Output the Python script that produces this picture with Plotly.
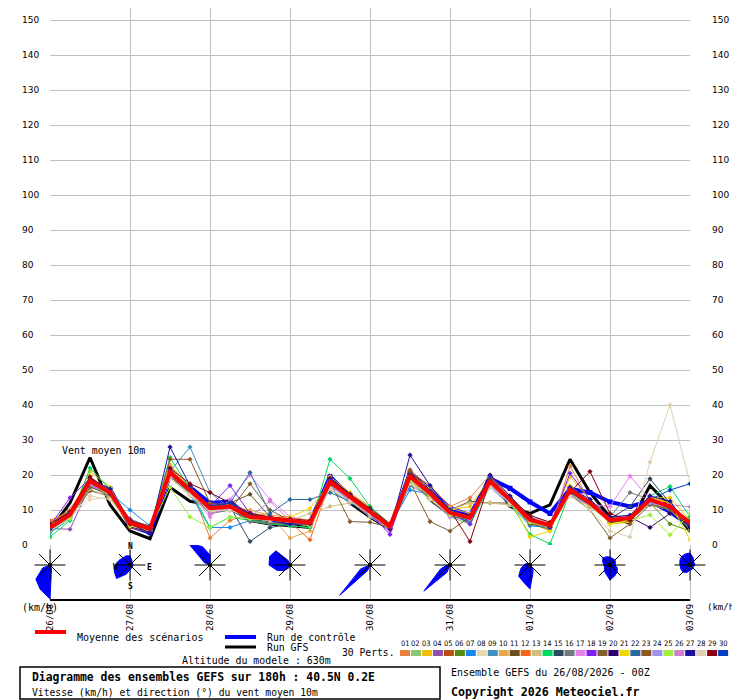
import math
import plotly.graph_objects as go

# page has an 8px body margin, so the figure is drawn 8px in from the window corner
OFF = 8
W, H = 740 - OFF, 700 - OFF
MONO = "DejaVu Sans Mono"

# 6-hourly steps from 26/08 00Z to 03/09 00Z
hours = list(range(0, 193, 6))
days = ["26/08", "27/08", "28/08", "29/08", "30/08", "31/08", "01/09", "02/09", "03/09"]
speed_ticks = list(range(0, 151, 10))

mean_run = [5, 8.6, 18.3, 15, 6.3, 4.7, 20.8, 15.7, 10.5, 11, 8, 7.6, 6.9, 6.3, 18, 13.6,
            9.5, 5.3, 19.6, 14.8, 9.2, 7.8, 18.2, 12.9, 7.2, 5.6, 15.8, 12, 7.1, 7.7, 13, 11, 6.2]
gfs_run = [4.3, 12, 25, 11.5, 4, 1.8, 16.5, 12.5, 11.5, 11, 7, 6, 5.5, 5, 20, 12,
           8, 4.5, 21, 13, 8.6, 7, 20, 11, 9, 11.5, 24.5, 15, 8, 6.2, 17, 11, 4]
ctrl_run = [4.5, 9.5, 17.5, 16, 5.5, 3.5, 20, 16.5, 12, 12.5, 7.5, 7, 6, 6.5, 19.5, 14,
            8.5, 5, 20.5, 16, 10.5, 8.5, 19, 16.2, 12.3, 9, 16, 15, 12.3, 11, 12.5, 9.5, 5.5]

perts = [
    [6.5, 9.5, 19, 16, 7, 5, 22, 17, 2, 7, 9, 8.5, 8, 7, 19, 14.5, 10, 6, 21, 17, 11, 13.5, 20, 14, 6.5, 4, 22.5, 12.5, 6, 8, 14, 12, 5],
    [4, 8, 17, 13.5, 5.5, 4, 20, 14, 9, 10, 7, 6.5, 5.5, 5, 17, 12.5, 8, 4.5, 18, 13, 8, 6, 17, 12, 6, 5, 14, 11, 6.5, 7, 12, 10, 4.5],
    [5.5, 9, 21, 16.5, 6, 4.5, 23, 16.5, 11, 12, 9, 8, 7.5, 7, 19.5, 15, 11, 6, 20, 15.5, 10, 11, 19, 13.5, 8, 6, 19.5, 13, 6, 6.5, 13.5, 13.5, 7],
    [4.7, 4.5, 17, 15, 7.5, 5, 19.5, 15, 11.5, 12, 9.5, 7, 6, 6, 17.5, 13, 9, 5, 19, 14, 9, 7, 17.5, 12, 7, 5, 15, 11.5, 7.5, 8.5, 12.5, 10.5, 5.5],
    [6, 10, 18.5, 14, 5, 3.5, 22, 15.5, 10, 10.5, 8, 8, 7, 6.5, 18.5, 14, 10, 5.5, 21.5, 16, 9, 8, 19, 13, 7.5, 5, 16, 12.5, 7, 7.5, 13, 11.5, 6],
    [5, 8.5, 17.5, 14, 6.5, 5, 21.5, 16, 10, 11.5, 7.5, 6, 6.5, 5.5, 18, 13.5, 9, 5, 18.5, 14, 9.5, 7.5, 18, 12.5, 6, 4.5, 15, 11, 8, 8, 12, 6, 4],
    [3.5, 7.5, 16.5, 15, 10, 5.5, 20, 14.5, 5, 5, 7, 8, 7, 6, 16, 12, 9.5, 5.5, 15.7, 14.5, 8.5, 7, 16.5, 11.5, 5.5, 5, 15.5, 11.5, 7.5, 8, 12.5, 10.5, 5],
    [6, 8, 13, 13.5, 6, 4.5, 19, 14, 9.5, 10, 8.5, 7, 7.5, 7, 17, 13, 8.5, 5, 18, 13.5, 8.5, 8, 17.5, 12, 7, 6, 14, 11, 7, 7, 11.5, 10, 6],
    [5, 9, 18, 14.5, 6, 4, 21, 28, 15, 10.5, 7.5, 7, 6.5, 6, 18, 13.5, 9.5, 5, 19, 14, 9, 7.5, 18.5, 13, 7, 5.5, 16, 12, 7, 7.5, 13, 11, 6],
    [6.5, 10, 19.5, 15.5, 7, 5, 22.5, 16, 11, 11, 10, 8.5, 2, 4, 18.5, 14.5, 11, 5.5, 20, 16.5, 10.5, 9, 18, 13, 8, 6, 16.5, 12.5, 7, 7, 13, 11.5, 6.5],
    [5, 8, 15.5, 14, 7, 5.5, 19.5, 15, 11, 12, 14.5, 8, 7, 6, 17.5, 13, 9, 5, 18.5, 13.5, 10, 12.5, 12, 12, 6.5, 5, 15, 11.5, 6.5, 7, 12, 10, 5.5],
    [7, 9.5, 19, 15, 6, 4, 21.5, 16.5, 11, 11.5, 8.5, 7.5, 6.5, 1.5, 18, 14, 10, 5, 20.5, 15.5, 9.5, 8, 19.5, 13.5, 7.5, 6, 16.5, 12, 7.5, 8, 13.5, 11, 7],
    [5.5, 8, 16, 13.5, 6, 4.5, 20, 15, 10, 10.5, 7.5, 7, 7, 9, 11, 12, 11, 6, 17.5, 14, 10, 12, 12, 11.4, 7, 5, 14.5, 11, 7, 7.5, 12, 10.5, 6],
    [2.3, 7, 22, 16, 7, 5, 25, 16, 5, 8, 7, 6, 5.5, 5, 24.5, 19, 11, 6, 19, 15, 9, 6, 17, 12, 3, 0.3, 15, 12.5, 7, 8, 14, 16.7, 8],
    [4.5, 8.5, 18, 14.5, 6.5, 4.5, 20.5, 15.5, 10.5, 11, 1, 5, 6, 6.5, 18.5, 13.5, 9.5, 5.5, 19.5, 14.5, 9, 7.5, 18, 13, 7, 5.5, 15.5, 12, 7.5, 11, 18.9, 12, 6],
    [5, 9, 17.5, 14, 6, 4.5, 21, 15, 9, 10, 6.7, 6, 6.5, 6, 17.5, 13, 9, 5, 19, 14, 9, 7, 18, 12.5, 6.5, 5, 15, 11.5, 8, 15, 13, 11.5, 6.5],
    [4, 8, 17, 14, 7, 5, 20.5, 15, 8, 13, 20, 13, 8, 6.5, 17, 12.5, 8.5, 4, 18.5, 13.5, 8, 7, 17, 12, 6.5, 5.5, 15.5, 11.5, 11, 19.7, 13, 11, 6.5],
    [5.5, 13.5, 19, 15, 6.5, 4.5, 21.5, 16, 11, 17, 9, 7.5, 6.5, 5.5, 18.5, 14, 9, 3, 20, 15, 9.5, 6, 18.5, 13.5, 7.5, 5.5, 20.5, 13, 7, 7, 13, 11, 5.5],
    [5, 8, 16.5, 14.5, 7, 5, 19.5, 15, 10.5, 10, 17.5, 10, 7, 6, 18, 6.7, 6.5, 5, 18, 6.7, 4, 8, 17.5, 12.5, 6, 5, 14.5, 10, 2, 6, 11.5, 10, 5],
    [5, 9, 18, 15, 7, 5, 21, 16, 11, 11, 8.5, 8, 7, 6.5, 18.5, 14, 10, 5.5, 20.5, 15, 9.5, 8.5, 18.5, 13, 7.5, 5.5, 16, 12, 6.5, 8, 5, 9, 5.5],
    [4.5, 9, 19.5, 15, 5.5, 4, 21, 15, 10, 11.5, 8, 7.5, 8, 10.5, 17.5, 13, 9, 4.5, 19, 14, 9.5, 8, 19, 13, 2.3, 4, 17, 12, 6, 7, 13.5, 12, 1.5],
    [5, 9, 18.5, 14, 6, 4.5, 20.5, 15.5, 10, 12, 20.7, 9, 13, 13, 15, 12.5, 9, 5, 17, 14, 8.5, 7, 18, 12.5, 7, 5.5, 15, 11.5, 7, 7.5, 12.5, 10.5, 6],
    [6, 9.5, 19, 15.5, 6.5, 4, 24.5, 24.5, 12, 11, 9, 7.5, 6.5, 6, 19, 14, 9.5, 5.5, 21, 15.5, 10, 8, 18.5, 13, 7, 6, 16, 12, 7.5, 7.5, 13, 11, 7],
    [4.5, 8, 17.5, 14.5, 6, 4.5, 20, 15, 10.5, 11, 8, 7, 6.5, 6, 17, 13, 9.5, 5.5, 19, 14.5, 9.5, 7.5, 17.5, 12.5, 8, 6.5, 14, 11.5, 7.5, 8.5, 12, 11, 6.5],
    [4, 7.5, 18, 14, 5.5, 4.5, 16.5, 8, 5, 8, 7.5, 7, 6.5, 5.5, 17.5, 13.5, 9, 5, 18.5, 14, 8.5, 7.5, 17.5, 12.5, 6.5, 5, 15.5, 11.5, 7, 7, 8.6, 2.9, 9],
    [5.5, 8.5, 18.5, 15, 6.5, 5, 21, 16, 9, 10.5, 8, 12.5, 7, 6.5, 18, 13.5, 9.5, 5, 19.5, 15, 9, 7.5, 18.5, 13, 7, 5.5, 16, 12, 7.5, 8, 13, 11.5, 10.9],
    [4.5, 9, 19, 16, 6, 3.5, 28, 17, 11, 12, 9, 7, 6, 6, 19, 14.5, 10, 4.5, 25.7, 17, 10, 8, 20, 14, 8, 5, 16.5, 13, 8, 8.5, 14, 12.5, 5],
    [5, 8.5, 14, 13, 6, 5, 19, 14.5, 10, 10, 8, 7, 7, 6.5, 16, 12.5, 9, 5.5, 17.5, 13, 9, 8, 16.5, 12, 7, 5.5, 14, 10, 4, 2.3, 23.7, 40, 17.7],
    [6, 9.5, 19.5, 15, 6, 4.5, 22, 17.5, 15, 12, 9, 8, 7.5, 7, 19, 14.5, 10.5, 6, 20, 15, 10, 1, 18.5, 13.5, 8.5, 6.5, 15, 21, 9, 7, 13, 11, 6.5],
    [5, 9, 18, 14.5, 6.5, 4.5, 21, 16, 11, 12, 8.5, 8, 7, 6.5, 18.5, 14, 10, 5.5, 20, 15.5, 10, 8, 19, 13.5, 7.5, 5.5, 16, 12.5, 7, 8, 13, 15.7, 17.5],
]
pert_colors = [
    "#e8823a", "#88c870", "#f0c000", "#9050b0", "#b85010", "#5a8a10", "#1a88f0", "#e8d8b0",
    "#4090c0", "#e8a850", "#6a5020", "#f06820", "#d0c080", "#00d860", "#2a4a60", "#707880",
    "#e880f0", "#8020f0", "#806030", "#300070", "#f0d800", "#2a68a0", "#905820", "#a090f0",
    "#a0f040", "#d080d0", "#2010a0", "#e0d0b0", "#880010", "#0040c0",
]

# wind direction roses at 00Z each day: spread (px) per 16 directions, N clockwise
roses = [
    [0, 0, 0, 0, 0, 0, 0, 4, 34, 26, 20, 8, 0, 0, 0, 0],
    [9, 5, 3, 3, 3, 3, 3, 3, 5, 10, 19, 17, 15, 12, 10, 10],
    [10, 0, 0, 0, 0, 0, 0, 0, 0, 0, 0, 0, 0, 6, 30, 20],
    [0, 0, 0, 0, 0, 0, 0, 0, 0, 3, 8, 14, 21, 22, 20, 5],
    [0, 0, 0, 0, 0, 0, 0, 0, 0, 6, 43, 10, 0, 0, 0, 0],
    [0, 0, 0, 0, 0, 0, 0, 0, 0, 8, 37, 10, 3, 0, 0, 0],
    [0, 0, 0, 0, 0, 0, 4, 8, 24, 18, 16, 10, 6, 4, 3, 0],
    [8, 7, 7, 6, 5, 8, 10, 12, 15, 10, 8, 6, 6, 8, 10, 9],
    [12, 8, 5, 5, 5, 4, 4, 5, 5, 8, 10, 10, 10, 11, 12, 12],
]


def px(x, y):
    """window pixel -> paper fraction"""
    return (x - OFF) / W, 1 - (y - OFF) / H


def dom_x(a, b):
    return [(a - OFF) / W, (b - OFF) / W]


def dom_y(top, bottom):
    return [1 - (bottom - OFF) / H, 1 - (top - OFF) / H]


fig = go.Figure()

# GFS and control sit under the perturbations, the mean on top
fig.add_trace(go.Scatter(x=hours, y=gfs_run, mode="lines",
                         line=dict(color="#000000", width=3), hoverinfo="skip"))
fig.add_trace(go.Scatter(x=hours, y=ctrl_run, mode="lines+markers",
                         line=dict(color="#0000ff", width=4),
                         marker=dict(size=5, symbol="square", color="#0000ff"),
                         hoverinfo="skip"))

for vals, col in zip(perts, pert_colors):
    fig.add_trace(go.Scatter(
        x=hours, y=vals, mode="lines+markers",
        line=dict(color=col, width=1),
        marker=dict(size=4, symbol="diamond", color=col),
        hoverinfo="skip"))

fig.add_trace(go.Scatter(x=hours, y=mean_run, mode="lines",
                         line=dict(color="#ff0000", width=4), hoverinfo="skip"))

# roses in the strip; strip axis is 0.3 h per px horizontally, 1 unit per px vertically
HPP = 0.3
for d, radii in enumerate(roses):
    h = 24 * d
    xs, ys = [], []
    for k, r in enumerate(radii):
        th = math.radians(22.5 * k)
        xs.append(h + r * math.sin(th) * HPP)
        ys.append(r * math.cos(th))
    xs.append(xs[0])
    ys.append(ys[0])
    fig.add_trace(go.Scatter(x=xs, y=ys, xaxis="x2", yaxis="y2", mode="lines",
                             fill="toself", fillcolor="#0000ff",
                             line=dict(color="#0000ff", width=1), hoverinfo="skip"))
    sx, sy = [], []
    for k in range(8):
        th = math.radians(45 * k)
        sx += [h, h + 15.5 * math.sin(th) * HPP, None]
        sy += [0, 15.5 * math.cos(th), None]
    fig.add_trace(go.Scatter(x=sx, y=sy, xaxis="x2", yaxis="y2", mode="lines",
                             line=dict(color="#000000", width=1), hoverinfo="skip"))
    fig.add_trace(go.Scatter(x=[h], y=[0], xaxis="x2", yaxis="y2", mode="markers",
                             marker=dict(size=4, color="#000000"), hoverinfo="skip"))

ann = []
for v in speed_ticks:
    for xp in (20, 710):
        ann.append(dict(x=px(xp, 0)[0], xref="paper", y=v, yref="y", text=str(v),
                        xanchor="left", yanchor="middle", showarrow=False,
                        font=dict(family="DejaVu Sans", size=9, color="#000")))


def label(x, y, text, size=10, bold=False, anchor="left", family=MONO):
    xx, yy = px(x, y)
    t = f"<b>{text}</b>" if bold else text
    ann.append(dict(x=xx, y=yy, xref="paper", yref="paper", text=t, showarrow=False,
                    xanchor=anchor, yanchor="middle",
                    font=dict(family=family, size=size, color="#000")))


label(60, 450, "Vent moyen 10m", 9.9)
label(20, 607, "(km/h)", 10)
label(705, 607, "(km/h)", 9)
label(130, 546, "N", 8, True, "center")
label(149, 567, "E", 8, True, "center")
label(130, 586, "S", 8, True, "center")
label(115, 567, "W", 8, True, "center")
label(75, 637, "Moyenne des scénarios", 10)
label(265, 637, "Run de contrôle", 9.8)
label(265, 647, "Run GFS", 9.8)
label(180, 660, "Altitude du modele : 630m", 9.9)
label(340, 652, "30 Perts.", 9.7)
label(30, 677, "Diagramme des ensembles GEFS sur 180h : 40.5N 0.2E", 11.4, True)
label(30, 692, "Vitesse (km/h) et direction (°) du vent moyen 10m", 9.7)
label(449, 672, "Ensemble GEFS du 26/08/2026 - 00Z", 10)
label(449, 692, "Copyright 2026 Meteociel.fr", 11.6, True)

shapes = [dict(type="line", xref="x2", yref="y2", x0=0, x1=192, y0=-35, y1=-35,
               line=dict(color="#000000", width=2))]


def seg(x0, x1, y, col, wdt):
    a, b = px(x0, y)
    c, _ = px(x1, y)
    shapes.append(dict(type="line", xref="paper", yref="paper", x0=a, x1=c, y0=b, y1=b,
                       line=dict(color=col, width=wdt)))


seg(35, 66, 632, "#ff0000", 4)
seg(225, 256, 637, "#0000ff", 4)
seg(225, 256, 647, "#000000", 3)

for i, col in enumerate(pert_colors):
    x0 = 400 + i * 10.97
    a, b = px(x0, 650)
    c, d = px(x0 + 10, 656)
    shapes.append(dict(type="rect", xref="paper", yref="paper", x0=a, x1=c, y0=d, y1=b,
                       fillcolor=col, line=dict(width=0)))
    label(x0 + 5, 643.5, f"{i + 1:02d}", 7.5, False, "center", "DejaVu Sans Condensed")

a, b = px(20, 667)
c, d = px(440, 699)
shapes.append(dict(type="rect", xref="paper", yref="paper", x0=a, x1=c, y0=d, y1=b,
                   line=dict(color="#000000", width=1.5)))

fig.update_layout(
    width=W, height=H, margin=dict(l=0, r=0, t=0, b=0),
    paper_bgcolor="white", plot_bgcolor="white", showlegend=False,
    xaxis=dict(domain=dom_x(50, 690), range=[0, 192], tick0=0, dtick=24,
               showgrid=True, gridcolor="#c0c0c0", gridwidth=1, showticklabels=False,
               zeroline=False, showline=False, ticks="", anchor="y"),
    yaxis=dict(domain=dom_y(OFF, 545), range=[0, (545 - OFF) / 3.5], tick0=0, dtick=10,
               showgrid=True, gridcolor="#c0c0c0", gridwidth=1, showticklabels=False,
               zeroline=False, showline=False, ticks="", anchor="x"),
    xaxis2=dict(domain=dom_x(30, 710), range=[-6, 198], anchor="y2",
                tickvals=[24 * i for i in range(len(days))], ticktext=days,
                tickangle=-90, ticks="", showgrid=True, gridcolor="#c0c0c0",
                zeroline=False, showline=False,
                tickfont=dict(family=MONO, size=9, color="#000")),
    yaxis2=dict(domain=dom_y(545, 601), range=[-36, 20], anchor="x2",
                showgrid=False, showticklabels=False, zeroline=False, ticks=""),
    annotations=ann, shapes=shapes,
)

fig.write_html("out.html")
